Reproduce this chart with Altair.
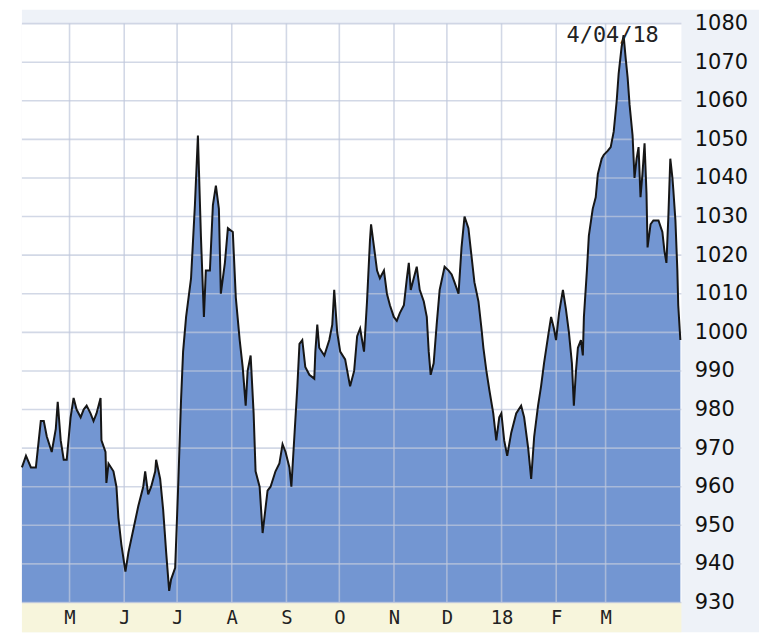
import altair as alt
import pandas as pd

# ---- data (days after 2017-04-04, index level) ----
day_offsets = [0, 2.3, 5.1, 7.9, 10.7, 12.4, 14.1, 16.9, 19.2, 20.3, 22, 23.7, 25.4, 27.6, 29.3, 31, 33.3, 35,
               36.7, 38.9, 40.6, 42.3, 44.6, 45.1, 47.4, 47.9, 49.1, 51.9, 53.6, 54.7, 56.4, 58.7, 60.4, 63.2, 66,
               68.8, 69.9, 71.6, 73.3, 75.6, 76.1, 78.4, 80.1, 81.8, 83.5, 84.6, 86.9, 88.6, 90.2, 91.4, 93.1, 95.9,
               98.1, 99.8, 101.5, 103.2, 104.3, 106.6, 108.3, 110, 111.7, 112.8, 115.1, 116.8, 119.6, 121.3, 123.5,
               125.2, 126.9, 128, 129.7, 131.4, 132.5, 134.8, 136.5, 139.3, 141, 143.8, 146, 147.8, 149.5, 151.7,
               152.8, 154.5, 156.2, 157.4, 159, 160.7, 163, 165.8, 166.4, 167.5, 168.6, 171.5, 174.3, 176, 177.1,
               178.8, 180.5, 183.3, 186.1, 188.4, 190.1, 191.8, 194, 195.7, 197.4, 198, 199.7, 201.4, 203, 205.3,
               207, 208.7, 210.9, 212.6, 214.3, 216.6, 218.3, 219.4, 220.5, 222.2, 223.9, 225.6, 227.9, 229.6,
               230.7, 231.8, 233.5, 235.2, 236.9, 239.7, 242, 243.7, 245.3, 247.6, 249.3, 251, 253.2, 254.9,
               256.6, 258.9, 260.6, 261.7, 263.4, 265.1, 267.3, 269, 270.7, 271.9, 273.5, 275.2, 277.5, 280.3,
               283.1, 284.8, 287.1, 288.8, 290.5, 292.7, 294.4, 296.1, 298.4, 300.1, 301.7, 302.9, 304.6, 306.8,
               308.5, 310.2, 311.9, 313, 314.2, 315.3, 317, 318.1, 318.7, 320.4, 321.5, 323.7, 325.4, 326.6,
               328.8, 330, 332.2, 333.9, 335.6, 337.3, 338.4, 340.1, 341.2, 342.4, 343.5, 344.6, 346.3, 347.4,
               348.6, 349.7, 350.8, 351.9, 353.1, 354.2, 354.8, 356.5, 358.1, 361, 363.2, 364.4, 365.5, 366.6,
               367.7, 368.9, 369.4, 370.6, 371.7, 372.2, 373.4]
values = [965, 968, 965, 965, 977, 977, 973, 969, 975, 982, 972, 967, 967, 978, 983, 980, 978, 980,
          981, 979, 977, 979, 983, 972, 969, 961, 966, 964, 960, 952, 945, 938, 943, 949, 955,
          960, 964, 958, 960, 964, 967, 962, 954, 943, 933, 936, 939, 960, 982, 995, 1004, 1014,
          1033, 1051, 1025, 1004, 1016, 1016, 1033, 1038, 1032, 1010, 1018, 1027, 1026, 1009, 998,
          991, 981, 990, 994, 979, 964, 960, 948, 959, 960, 964, 966, 971, 969, 965,
          960, 973, 986, 997, 998, 991, 989, 988, 995, 1002, 996, 994, 998, 1002, 1011,
          1000, 995, 993, 986, 990, 999, 1001, 995, 1008, 1024, 1028, 1022, 1016, 1014, 1016,
          1010, 1007, 1004, 1003, 1005, 1007, 1014, 1018, 1011, 1014, 1017, 1011, 1008, 1004,
          995, 989, 992, 1002, 1011, 1017, 1016, 1015, 1013, 1010, 1022, 1030, 1027, 1020,
          1013, 1008, 1001, 996, 990, 985, 979, 972, 978, 979, 972, 968, 974, 979,
          981, 978, 970, 962, 973, 981, 986, 992, 999, 1004, 1001, 998, 1005, 1011,
          1006, 1000, 992, 981, 990, 996, 998, 994, 1004, 1016, 1025, 1032, 1035, 1041,
          1045, 1046, 1047, 1048, 1052, 1060, 1067, 1074, 1077, 1071, 1066, 1059, 1051, 1040,
          1045, 1048, 1035, 1041, 1049, 1036, 1022, 1028, 1029, 1029, 1026, 1021, 1018, 1030,
          1045, 1040, 1037, 1029, 1016, 1007, 998]

start_date = "2017-04-04"
end_date = "2018-04-13"
month_ticks = ["2017-05-01", "2017-06-01", "2017-07-01", "2017-08-01", "2017-09-01", "2017-10-01",
               "2017-11-01", "2017-12-01", "2018-01-01", "2018-02-01", "2018-03-01"]
y_ticks = [930, 940, 950, 960, 970, 980, 990, 1000, 1010, 1020, 1030, 1040, 1050, 1060, 1070, 1080]
annotation_text = "4/04/18"

# ---- tables ----
dates = pd.Timestamp(start_date) + pd.to_timedelta(day_offsets, unit="D")
df = pd.DataFrame({"date": dates, "value": values})
peak = df.loc[df["value"].idxmax()]
ann = pd.DataFrame({"date": [peak["date"]], "value": [peak["value"]], "label": [annotation_text]})
xgrid = pd.DataFrame({"date": pd.to_datetime(month_ticks)})
ygrid = pd.DataFrame({"value": y_ticks})


def dt(s):
    t = pd.Timestamp(s)
    return alt.DateTime(year=t.year, month=t.month, date=t.day)


W, H = 663, 582
BLUE = "#7396d2"
GRID = "#bfc7dc"

xscale = alt.Scale(domain=[dt(start_date), dt(end_date)])
yscale = alt.Scale(domain=[930, 1080], zero=False, nice=False)

x_axis = alt.Axis(values=[dt(m) for m in month_ticks],
                  labelExpr="month(datum.value)==0 ? '18' : substring(timeFormat(datum.value,'%b'),0,1)",
                  grid=False, domain=False, ticks=False, labelPadding=6,
                  labelFont="DejaVu Sans Mono", labelFontSize=19, labelColor="#222",
                  labelAlign="center", labelOverlap=False, zindex=2)
y_axis = alt.Axis(orient="right", values=y_ticks, format="d", grid=False,
                  domain=False, ticks=False, labelOverlap=False,
                  labelPadding=13, labelFont="DejaVu Sans", labelFontSize=21,
                  labelColor="#111", zindex=2)


def X():
    return alt.X("date:T", scale=xscale, title=None, axis=x_axis)


def Y():
    return alt.Y("value:Q", scale=yscale, title=None, axis=y_axis)


one = pd.DataFrame({"a": [0]})
bg = alt.Chart(one).mark_rect(color="#eef2f8").encode(
    x=alt.value(0), x2=alt.value(741), y=alt.value(-14), y2=alt.value(612))
plotbg = alt.Chart(one).mark_rect(color="white").encode(
    x=alt.value(0), x2=alt.value(W), y=alt.value(0), y2=alt.value(H))
band = alt.Chart(one).mark_rect(color="#f7f5dc").encode(
    x=alt.value(0), x2=alt.value(W), y=alt.value(H), y2=alt.value(H + 30))

area = alt.Chart(df).mark_area(color=BLUE, opacity=1).encode(x=X(), y=Y(), y2=alt.datum(930))
vgrid = alt.Chart(xgrid).mark_rule(color=GRID, opacity=0.7, strokeWidth=1.6).encode(
    x=X(), y=alt.value(0), y2=alt.value(H))
hgrid = alt.Chart(ygrid).mark_rule(color=GRID, opacity=0.7, strokeWidth=1.6).encode(
    y=Y(), x=alt.value(0), x2=alt.value(W))
line = alt.Chart(df).mark_line(color="#161616", strokeWidth=2).encode(x=X(), y=Y())
text = alt.Chart(ann).mark_text(font="DejaVu Sans Mono", fontSize=22, dx=-11, dy=0,
                                baseline="middle", align="center", color="#222").encode(
    x=X(), y=Y(), text="label:N")

chart = alt.layer(bg, plotbg, band, area, vgrid, hgrid, line, text).properties(
    width=W, height=H,
    padding={"left": 10, "top": 0, "right": 0, "bottom": 0},
).configure_view(stroke="#cdd4e4", strokeWidth=1).configure(background="white")

chart.save("out.html", embed_options={"renderer": "svg", "actions": False})
